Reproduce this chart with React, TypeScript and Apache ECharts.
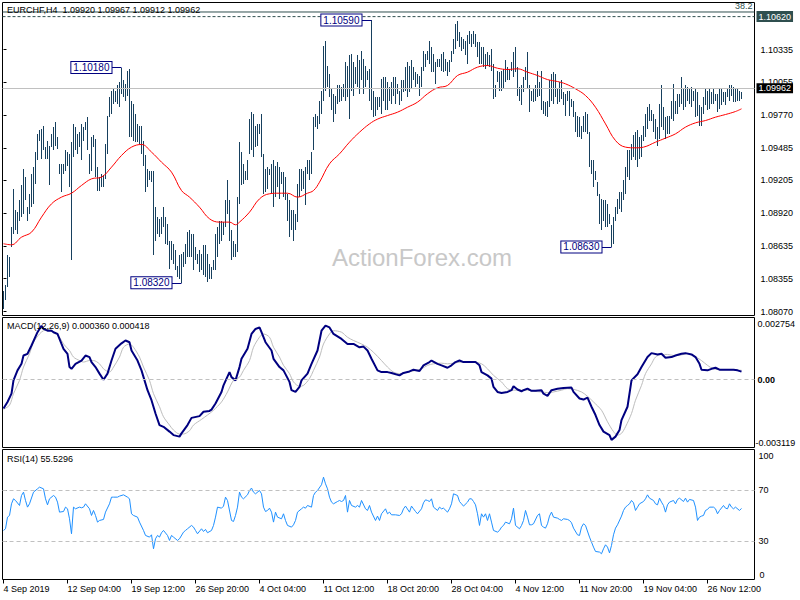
import React, { useEffect, useRef } from 'react';
import * as echarts from 'echarts';

const symbolTitle = 'EURCHF,H4  1.09920 1.09967 1.09912 1.09962';
const macdTitle = 'MACD(12,26,9) 0.000360 0.000418';
const rsiTitle = 'RSI(14) 55.5296';

const highs = [
1.08253,1.08297,1.08556,1.08541,1.08801,1.09132,1.08945,1.08930,1.09031,1.09161,
1.09305,1.09233,1.08973,1.09089,1.09261,1.09319,1.09449,1.09607,1.09636,1.09650,
1.09679,1.09492,1.09549,1.09506,1.09607,1.09665,1.09708,1.09578,1.09348,1.09348,
1.09348,1.09463,1.09449,1.09434,1.09535,1.09693,1.09665,1.09607,1.09621,1.09693,
1.09665,1.09708,1.09751,1.09434,1.09578,1.09593,1.09564,1.09319,1.09233,1.09261,
1.09247,1.09521,1.09765,1.09924,1.09981,1.09996,1.09981,1.10025,1.10053,1.10180,
1.10068,1.10039,1.10154,1.10170,1.09895,1.09866,1.09780,1.09693,1.09679,1.09679,
1.09549,1.09420,1.09305,1.09290,1.09290,1.09290,1.08973,1.08887,1.08873,1.08887,
1.08973,1.08887,1.08830,1.08685,1.08685,1.08657,1.08599,1.08469,1.08556,1.08570,
1.08585,1.08657,1.08757,1.08772,1.08743,1.08743,1.08628,1.08570,1.08599,1.08570,
1.08642,1.08642,1.08570,1.08484,1.08455,1.08513,1.08743,1.08801,1.08858,1.08858,
1.08844,1.09031,1.09204,1.09031,1.08772,1.08685,1.08657,1.09060,1.09535,1.09449,
1.09348,1.09290,1.09377,1.09737,1.09794,1.09780,1.09679,1.09693,1.09693,1.09780,
1.09434,1.09305,1.09319,1.09305,1.09348,1.09377,1.09333,1.09362,1.09319,1.09276,
1.09276,1.09233,1.09089,1.09031,1.08945,1.08945,1.08916,1.09175,1.09305,1.09305,
1.09290,1.09319,1.09377,1.09377,1.09449,1.09751,1.09780,1.09765,1.09895,1.09981,
1.10370,1.10413,1.10197,1.10125,1.09996,1.09953,1.09938,1.10025,1.10025,1.10010,
1.10039,1.10226,1.10197,1.10284,1.10298,1.10226,1.10183,1.10284,1.10241,1.10327,
1.10255,1.10197,1.10154,1.10169,1.10590,1.09981,1.09924,1.09924,1.09924,1.10082,
1.10097,1.10097,1.10053,1.10010,1.10053,1.10097,1.10097,1.10039,1.09981,1.10068,
1.10068,1.10183,1.10226,1.10197,1.10241,1.10183,1.10140,1.10125,1.10111,1.10183,
1.10327,1.10298,1.10327,1.10413,1.10356,1.10298,1.10226,1.10255,1.10255,1.10298,
1.10313,1.10255,1.10226,1.10241,1.10327,1.10428,1.10560,1.10585,1.10485,1.10442,
1.10428,1.10413,1.10457,1.10500,1.10471,1.10500,1.10471,1.10399,1.10399,1.10356,
1.10356,1.10298,1.10313,1.10284,1.10341,1.10212,1.10025,1.10154,1.10140,1.10154,
1.10169,1.10241,1.10183,1.10169,1.10226,1.10313,1.10356,1.10183,1.10010,1.10025,
1.10097,1.10183,1.10313,1.10025,1.09981,1.09996,1.10025,1.10154,1.10053,1.10154,
1.09895,1.09881,1.09895,1.10068,1.10125,1.10140,1.10125,1.09996,1.10053,1.10068,
1.09967,1.09953,1.09981,1.09981,1.09909,1.09895,1.09794,1.09765,1.09751,1.09679,
1.09765,1.09794,1.09780,1.09621,1.09377,1.09377,1.09290,1.09189,1.09089,1.09045,
1.09031,1.09031,1.09002,1.08916,1.08815,1.08887,1.08973,1.09045,1.09103,1.09103,
1.09204,1.09319,1.09463,1.09463,1.09521,1.09593,1.09621,1.09636,1.09578,1.09593,
1.09679,1.09780,1.09837,1.09866,1.09809,1.09780,1.09737,1.09665,1.09866,1.10025,
1.09837,1.09751,1.09765,1.09765,1.09895,1.10039,1.09895,1.09953,1.09953,1.10097,
1.09996,1.10025,1.10010,1.09996,1.10010,1.09981,1.09996,1.09967,1.09852,1.09837,
1.09924,1.09996,1.09981,1.09996,1.09967,1.09996,1.09953,1.09953,1.09996,1.09996,
1.09967,1.09967,1.09996,1.10025,1.10025,1.10010,1.09996,1.09996,1.09981,1.09967
];

const lows = [
1.08095,1.08167,1.08282,1.08369,1.08628,1.08743,1.08772,1.08743,1.08858,1.08887,
1.08916,1.09031,1.08858,1.08916,1.08973,1.09002,1.09175,1.09377,1.09549,1.09391,
1.09463,1.09391,1.09391,1.09161,1.09492,1.09463,1.09506,1.09477,1.09261,1.09103,
1.09261,1.09290,1.09333,1.09146,1.08513,1.09405,1.09463,1.09434,1.09492,1.09377,
1.09549,1.09636,1.09463,1.09261,1.09290,1.09492,1.09233,1.09117,1.09117,1.09146,
1.09146,1.09218,1.09434,1.09751,1.09780,1.09866,1.09881,1.09866,1.09837,1.09953,
1.09924,1.09895,1.09938,1.09578,1.09578,1.09549,1.09535,1.09535,1.09521,1.09434,
1.09333,1.09103,1.09146,1.09204,1.09189,1.08556,1.08685,1.08743,1.08714,1.08743,
1.08801,1.08657,1.08642,1.08441,1.08513,1.08484,1.08426,1.08369,1.08354,1.08320,
1.08455,1.08484,1.08541,1.08541,1.08541,1.08426,1.08513,1.08484,1.08412,1.08426,
1.08383,1.08369,1.08325,1.08354,1.08354,1.08426,1.08426,1.08541,1.08657,1.08685,
1.08729,1.08801,1.08916,1.08685,1.08513,1.08541,1.08541,1.08585,1.09002,1.09161,
1.09175,1.09204,1.09204,1.09434,1.09463,1.09405,1.09492,1.09506,1.09607,1.09405,
1.09089,1.09103,1.09132,1.09247,1.09089,1.08973,1.09060,1.09146,1.09045,1.09175,
1.09060,1.09031,1.08858,1.08714,1.08772,1.08685,1.08772,1.08844,1.09060,1.09117,
1.09132,1.08988,1.09261,1.09204,1.09261,1.09463,1.09665,1.09650,1.09693,1.09780,
1.09895,1.09981,1.10010,1.09924,1.09809,1.09708,1.09780,1.09866,1.09881,1.09895,
1.09924,1.09895,1.09924,1.09737,1.09981,1.09938,1.10039,1.10010,1.09953,1.10068,
1.09953,1.10010,1.10068,1.09895,1.09809,1.09751,1.09765,1.09809,1.09837,1.09780,
1.09895,1.09809,1.09809,1.09895,1.09866,1.09938,1.09866,1.09953,1.09852,1.09895,
1.09967,1.09981,1.09924,1.09967,1.09996,1.10068,1.10010,1.10039,1.09938,1.10010,
1.10154,1.10183,1.10241,1.10212,1.10140,1.10140,1.10039,1.10183,1.10183,1.10154,
1.10140,1.10154,1.10111,1.10140,1.10226,1.10298,1.10341,1.10413,1.10356,1.10327,
1.10341,1.10284,1.10212,1.10385,1.10356,1.10385,1.10356,1.10269,1.10212,1.10212,
1.10183,1.10169,1.10197,1.10183,1.10154,1.09909,1.09924,1.10053,1.09981,1.09981,
1.09996,1.10053,1.10068,1.10068,1.10154,1.10097,1.10140,1.09938,1.09895,1.09852,
1.09967,1.10068,1.09996,1.09794,1.09895,1.09881,1.09895,1.09924,1.09938,1.09809,
1.09780,1.09765,1.09751,1.09837,1.09895,1.09866,1.09924,1.09866,1.09881,1.09909,
1.09852,1.09765,1.09895,1.09765,1.09837,1.09751,1.09621,1.09578,1.09578,1.09564,
1.09621,1.09621,1.09607,1.09319,1.09261,1.09146,1.09204,1.09074,1.08830,1.08772,
1.08858,1.08801,1.08801,1.08830,1.08630,1.08657,1.08858,1.08916,1.08959,1.08930,
1.09031,1.09089,1.09233,1.09204,1.09377,1.09405,1.09377,1.09319,1.09391,1.09405,
1.09549,1.09578,1.09650,1.09722,1.09722,1.09621,1.09564,1.09506,1.09564,1.09665,
1.09636,1.09564,1.09607,1.09607,1.09737,1.09722,1.09780,1.09780,1.09837,1.09866,
1.09809,1.09837,1.09895,1.09866,1.09837,1.09895,1.09751,1.09765,1.09679,1.09679,
1.09780,1.09852,1.09809,1.09823,1.09866,1.09866,1.09895,1.09794,1.09823,1.09852,
1.09881,1.09852,1.09924,1.09895,1.09938,1.09881,1.09881,1.09895,1.09895,1.09912
];

// moving average (red) sampled at bar indices
const maIndex = [0,4,9,14,19,24,29,34,39,44,49,54,59,64,69,74,79,84,89,93,98,103,108,113,116,118,123,128,133,138,142,147,152,155,158,163,168,173,178,183,187,192,197,202,207,212,217,222,227,232,237,242,247,252,257,262,267,272,277,281,286,291,296,301,306,311,316,320,326,331,336,341,346,351,356,361,366,369];
const maValue = [1.08657,1.08648,1.08714,1.08757,1.08887,1.09002,1.09060,1.09094,1.09161,1.09218,1.09233,1.09319,1.09420,1.09492,1.09515,1.09449,1.09362,1.09276,1.09117,1.09060,1.08973,1.08873,1.08844,1.08844,1.08821,1.08844,1.08930,1.09045,1.09089,1.09094,1.09094,1.09060,1.09094,1.09117,1.09189,1.09348,1.09434,1.09535,1.09621,1.09693,1.09734,1.09765,1.09794,1.09837,1.09881,1.09953,1.10005,1.10025,1.10111,1.10140,1.10183,1.10197,1.10174,1.10163,1.10169,1.10140,1.10111,1.10076,1.10059,1.10039,1.09996,1.09938,1.09837,1.09693,1.09549,1.09492,1.09486,1.09492,1.09535,1.09570,1.09607,1.09665,1.09702,1.09722,1.09751,1.09774,1.09800,1.09823];

const macdLine = [[0,-0.00133],[2,-0.00103],[4,-0.00065],[5,-0.00004],[7,0.00042],[9,0.00072],[10,0.00110],[12,0.00118],[14,0.00156],[17,0.00217],[19,0.00247],[20,0.00232],[22,0.00224],[24,0.00224],[25,0.00217],[27,0.00209],[29,0.00163],[30,0.00141],[32,0.00118],[33,0.00057],[34,0.00049],[36,0.00072],[39,0.00087],[41,0.00110],[43,0.00103],[44,0.00080],[46,0.00057],[48,0.00027],[50,-0.00001],[52,0.00027],[54,0.00087],[56,0.00141],[59,0.00166],[61,0.00179],[63,0.00171],[64,0.00133],[67,0.00087],[69,0.00042],[72,-0.00049],[74,-0.00095],[76,-0.00156],[78,-0.00209],[80,-0.00217],[83,-0.00239],[85,-0.00255],[88,-0.00262],[89,-0.00247],[92,-0.00209],[94,-0.00176],[98,-0.00168],[100,-0.00148],[103,-0.00144],[104,-0.00138],[106,-0.00110],[109,-0.00057],[110,-0.00027],[113,0.00034],[114,0.00011],[116,-0.00004],[118,0.00057],[119,0.00095],[122,0.00141],[124,0.00209],[126,0.00232],[128,0.00239],[129,0.00217],[131,0.00171],[134,0.00133],[135,0.00095],[138,0.00057],[140,0.00042],[143,-0.00011],[144,-0.00049],[146,-0.00057],[148,-0.00034],[149,-0.00004],[152,0.00027],[154,0.00072],[157,0.00133],[159,0.00224],[161,0.00247],[163,0.00239],[165,0.00209],[169,0.00186],[172,0.00163],[175,0.00163],[178,0.00148],[180,0.00151],[182,0.00133],[184,0.00095],[187,0.00042],[189,0.00034],[192,0.00034],[194,0.00030],[198,0.00019],[200,0.00030],[203,0.00037],[205,0.00045],[208,0.00039],[210,0.00065],[213,0.00080],[214,0.00087],[217,0.00072],[219,0.00065],[222,0.00054],[224,0.00065],[226,0.00080],[228,0.00087],[230,0.00080],[234,0.00080],[236,0.00080],[238,0.00065],[239,0.00034],[242,0.00019],[244,0.00004],[245,-0.00034],[247,-0.00057],[249,-0.00062],[252,-0.00057],[254,-0.00049],[255,-0.00031],[257,-0.00046],[259,-0.00054],[260,-0.00049],[262,-0.00042],[264,-0.00052],[266,-0.00052],[269,-0.00049],[270,-0.00065],[272,-0.00075],[274,-0.00049],[277,-0.00042],[280,-0.00039],[284,-0.00037],[285,-0.00057],[288,-0.00087],[290,-0.00092],[292,-0.00083],[294,-0.00125],[296,-0.00163],[298,-0.00209],[300,-0.00239],[303,-0.00255],[304,-0.00277],[306,-0.00262],[308,-0.00232],[309,-0.00186],[312,-0.00125],[314,-0.00004],[317,0.00024],[319,0.00057],[322,0.00103],[324,0.00121],[327,0.00115],[329,0.00118],[331,0.00100],[334,0.00103],[336,0.00110],[339,0.00118],[341,0.00121],[344,0.00115],[346,0.00103],[348,0.00072],[349,0.00045],[352,0.00042],[354,0.00049],[356,0.00054],[358,0.00045],[360,0.00045],[363,0.00045],[365,0.00045],[367,0.00042],[369,0.00036]];

const signalLine = [[0,-0.00136],[3,-0.00118],[5,-0.00065],[8,-0.00004],[10,0.00057],[13,0.00118],[15,0.00171],[18,0.00209],[20,0.00224],[23,0.00232],[25,0.00217],[28,0.00194],[30,0.00163],[33,0.00133],[35,0.00103],[38,0.00087],[40,0.00080],[43,0.00087],[45,0.00087],[48,0.00072],[50,0.00049],[53,0.00034],[55,0.00057],[58,0.00103],[60,0.00148],[63,0.00163],[65,0.00148],[68,0.00103],[70,0.00057],[73,-0.00004],[75,-0.00065],[78,-0.00125],[80,-0.00171],[83,-0.00209],[85,-0.00232],[88,-0.00250],[90,-0.00250],[93,-0.00235],[95,-0.00209],[99,-0.00183],[102,-0.00163],[105,-0.00141],[109,-0.00103],[112,-0.00057],[115,-0.00004],[118,0.00011],[120,0.00042],[123,0.00087],[125,0.00148],[128,0.00194],[130,0.00209],[133,0.00194],[135,0.00148],[138,0.00103],[140,0.00065],[143,0.00027],[145,-0.00011],[148,-0.00031],[150,-0.00027],[153,0.00004],[155,0.00042],[158,0.00103],[160,0.00163],[163,0.00209],[165,0.00224],[169,0.00217],[172,0.00194],[175,0.00179],[179,0.00163],[182,0.00148],[185,0.00125],[189,0.00087],[192,0.00057],[195,0.00034],[198,0.00027],[202,0.00034],[205,0.00039],[209,0.00049],[212,0.00065],[215,0.00072],[219,0.00075],[222,0.00072],[225,0.00075],[229,0.00080],[232,0.00080],[235,0.00080],[239,0.00072],[242,0.00049],[245,0.00019],[249,-0.00011],[252,-0.00042],[255,-0.00049],[259,-0.00049],[262,-0.00049],[265,-0.00054],[269,-0.00057],[272,-0.00060],[275,-0.00057],[279,-0.00049],[282,-0.00042],[285,-0.00045],[289,-0.00057],[292,-0.00077],[295,-0.00103],[299,-0.00141],[302,-0.00194],[305,-0.00239],[307,-0.00255],[309,-0.00247],[311,-0.00217],[314,-0.00156],[316,-0.00095],[319,-0.00027],[321,0.00027],[324,0.00072],[326,0.00103],[329,0.00115],[332,0.00115],[335,0.00110],[339,0.00113],[342,0.00118],[345,0.00110],[349,0.00087],[352,0.00065],[355,0.00049],[359,0.00045],[362,0.00045],[365,0.00045],[369,0.00042]];

const rsiLine = [[0,38.3],[1,39.6],[2,48.7],[3,50.0],[4,59.1],[5,63.0],[6,61.7],[8,57.8],[9,65.6],[10,68.2],[11,61.7],[12,56.5],[13,59.1],[15,68.2],[17,70.8],[18,72.1],[20,70.8],[21,63.0],[22,58.3],[23,63.0],[25,65.6],[26,64.3],[27,60.4],[28,52.6],[30,53.1],[31,56.5],[32,55.2],[33,47.4],[34,35.7],[35,56.5],[36,55.2],[38,56.5],[39,56.0],[40,56.5],[41,59.1],[43,55.2],[44,50.0],[45,53.9],[46,50.0],[47,44.8],[48,46.1],[50,46.9],[51,52.6],[53,59.1],[54,64.3],[55,64.3],[57,64.3],[58,65.1],[60,66.1],[62,64.3],[63,63.0],[64,51.3],[65,50.0],[67,48.7],[68,44.8],[70,38.3],[71,34.4],[73,33.1],[74,34.9],[75,24.0],[76,31.8],[77,34.4],[78,33.1],[79,36.5],[80,38.3],[82,34.4],[83,30.5],[84,34.4],[85,33.1],[87,30.5],[88,31.8],[90,37.0],[91,38.3],[92,39.6],[94,42.2],[95,40.9],[96,38.3],[97,35.7],[99,39.6],[100,37.5],[101,39.1],[102,36.5],[104,38.3],[105,42.2],[106,48.7],[107,56.5],[109,55.7],[110,57.3],[111,64.3],[112,61.7],[114,46.1],[115,45.3],[116,50.0],[117,56.5],[118,68.2],[119,64.3],[120,63.0],[122,66.1],[123,69.5],[124,71.4],[125,68.2],[126,66.9],[128,69.5],[129,66.9],[130,56.5],[131,53.1],[132,53.9],[133,55.7],[134,52.6],[135,44.8],[136,52.6],[137,48.7],[139,47.4],[140,51.3],[141,46.1],[142,42.2],[144,40.9],[145,42.7],[146,46.1],[147,52.6],[149,55.2],[150,56.5],[151,55.7],[152,57.8],[154,56.5],[155,65.6],[156,68.2],[157,69.5],[159,74.0],[160,79.9],[161,74.7],[162,70.8],[163,64.3],[164,60.4],[165,59.1],[167,60.9],[168,61.7],[169,60.9],[170,61.7],[171,65.6],[172,52.6],[173,61.7],[174,57.8],[176,56.5],[177,57.8],[178,56.5],[179,61.7],[181,55.2],[182,53.9],[183,57.8],[184,52.6],[186,46.1],[187,49.5],[188,46.1],[189,51.3],[191,55.2],[192,51.3],[193,52.6],[194,50.5],[196,50.5],[198,50.0],[199,51.3],[200,55.2],[201,57.3],[203,52.6],[204,57.3],[205,55.2],[206,53.1],[207,51.3],[209,55.2],[210,59.9],[211,62.2],[212,61.7],[213,60.9],[214,63.0],[215,56.5],[217,53.9],[218,56.5],[219,55.2],[220,55.7],[222,52.6],[223,55.2],[224,59.1],[225,66.9],[227,65.6],[228,60.9],[229,59.1],[230,57.3],[232,60.4],[233,63.0],[234,63.0],[235,60.9],[236,58.3],[237,51.3],[238,42.2],[239,51.3],[240,48.7],[241,51.3],[242,46.1],[243,51.3],[244,44.8],[245,38.3],[247,37.0],[248,38.3],[249,40.9],[250,42.2],[251,44.8],[253,43.5],[254,47.4],[255,55.7],[256,42.2],[258,39.6],[259,42.2],[260,46.1],[261,53.9],[262,48.7],[263,42.7],[264,42.7],[265,43.5],[267,50.0],[268,51.3],[269,42.2],[270,40.9],[271,40.1],[272,43.5],[273,49.5],[274,52.6],[275,48.7],[277,47.9],[278,46.9],[279,46.1],[280,47.4],[282,46.9],[283,46.1],[284,44.3],[285,40.1],[287,34.9],[288,34.4],[289,40.9],[290,43.5],[291,42.2],[293,33.1],[294,29.2],[295,25.3],[296,21.9],[298,21.4],[299,20.1],[300,24.0],[301,27.1],[302,25.3],[303,20.8],[304,26.6],[305,34.9],[306,40.1],[307,42.7],[309,49.5],[310,53.9],[311,56.5],[312,57.8],[313,59.1],[314,61.7],[315,59.9],[316,53.9],[317,56.5],[318,59.1],[320,60.9],[321,63.0],[322,66.1],[323,63.5],[325,61.7],[326,59.1],[327,58.3],[328,63.5],[329,60.4],[330,57.8],[331,52.6],[332,58.3],[333,60.4],[335,61.7],[336,59.1],[337,62.5],[338,63.5],[340,60.9],[341,63.5],[342,60.4],[343,62.5],[345,61.7],[346,56.5],[347,46.1],[348,48.7],[349,49.5],[350,50.0],[351,53.9],[352,54.7],[353,56.5],[355,56.5],[356,55.2],[357,51.3],[358,53.9],[360,57.8],[361,55.7],[362,55.2],[363,59.1],[364,56.5],[365,55.2],[366,56.5],[368,53.9],[369,55.5]];

const priceTicks = [1.10335, 1.10055, 1.09770, 1.09485, 1.09205, 1.08920, 1.08635, 1.08355, 1.08070];
const dateTickIndex = [0, 32, 64, 96, 128, 160, 192, 224, 256, 288, 320, 352];
const dateTickLabels = ['4 Sep 2019', '12 Sep 04:00', '19 Sep 12:00', '26 Sep 20:00', '4 Oct 04:00', '11 Oct 12:00', '18 Oct 20:00', '28 Oct 04:00', '4 Nov 12:00', '11 Nov 20:00', '19 Nov 04:00', '26 Nov 12:00'];

const extremeIndex = [59, 89, 184, 304];
const extremeValue = [1.10180, 1.08320, 1.10590, 1.08630];

const fibLevel = 1.10660;
const fibLabel = '38.2';
const hLevel = 1.10620;
const lastPrice = 1.09962;
const macdTop = 0.002754;
const macdBottom = -0.003119;
const rsiLevels = [70, 30];

const FONT = "'Liberation Sans', Arial, sans-serif";
const BAR = '#17405E';
const NAVY = '#000080';
const SLATE = '#2F4F4F';
const BARS_VISIBLE = 376;

export default function App() {
  const ref = useRef<HTMLDivElement>(null);
  useEffect(() => {
    if (!ref.current) return;
    const chart = echarts.init(ref.current, undefined, { renderer: 'svg' });
    const xMin = -0.5;
    const xMax = BARS_VISIBLE - 0.5;
    const barData = highs.map((h, i) => [i, lows[i], h]);
    const maData = maIndex.map((x, k) => [x, maValue[k]]);
    const lbl = { fontFamily: FONT, fontSize: 9, color: '#000' };
    const xBase = { type: 'value', min: xMin, max: xMax };
    const CONN = 5;

    const extremeLines = extremeIndex.map((i, k) => [
      { coord: [i - CONN, extremeValue[k]], lineStyle: { color: NAVY, type: 'solid', width: 1 }, label: { show: false } },
      { coord: [i, extremeValue[k]] },
    ]);

    const option: any = {
      animation: false,
      backgroundColor: '#ffffff',
      title: [
        { text: symbolTitle, left: 7, top: 5, padding: 0, textStyle: { ...lbl, fontWeight: 'normal' } },
        { text: macdTitle, left: 7, top: 321, padding: 0, textStyle: { ...lbl, fontWeight: 'normal' } },
        { text: rsiTitle, left: 7, top: 454, padding: 0, textStyle: { ...lbl, fontWeight: 'normal' } },
      ],
      graphic: [
        { type: 'text', left: 332, top: 245, z: 0, style: { text: 'ActionForex.com', fontSize: 24, fontFamily: FONT, fill: '#C8C8C8' } },
      ],
      grid: [
        { left: 2.5, top: 2.5, width: 752, height: 313, show: true, borderColor: '#000', borderWidth: 1 },
        { left: 2.5, top: 317.5, width: 752, height: 130, show: true, borderColor: '#000', borderWidth: 1 },
        { left: 2.5, top: 449.5, width: 752, height: 130, show: true, borderColor: '#000', borderWidth: 1 },
      ],
      xAxis: [
        { ...xBase, gridIndex: 0, show: false },
        { ...xBase, gridIndex: 1, show: false },
        {
          ...xBase, gridIndex: 2,
          axisLine: { show: false }, splitLine: { show: false },
          axisTick: { show: true, customValues: dateTickIndex, length: 4, lineStyle: { color: '#000' } },
          axisLabel: {
            ...lbl, customValues: dateTickIndex, align: 'left', margin: 5,
            formatter: (v: number) => { const k = dateTickIndex.indexOf(Math.round(v)); return k >= 0 ? dateTickLabels[k] : ''; },
          },
        },
      ],
      yAxis: [
        {
          type: 'value', gridIndex: 0, position: 'right', min: 1.08037, max: 1.10742,
          splitLine: { show: false }, axisLine: { show: false },
          axisTick: { show: true, customValues: priceTicks, length: 3, lineStyle: { color: '#000' } },
          axisLabel: { ...lbl, lineHeight: 9, customValues: priceTicks, margin: 6, formatter: (v: number) => v.toFixed(5) },
        },
        {
          type: 'value', gridIndex: 1, position: 'right', min: macdBottom, max: 0.002845,
          splitLine: { show: false }, axisLine: { show: false },
          axisTick: { show: true, customValues: [0], length: 3, lineStyle: { color: '#000' } },
          axisLabel: { ...lbl, fontWeight: 'bold', customValues: [0], margin: 3, formatter: () => '0.00' },
        },
        {
          type: 'value', gridIndex: 1, position: 'right', min: macdBottom, max: 0.002845,
          splitLine: { show: false }, axisLine: { show: false }, axisTick: { show: false },
          axisLabel: { ...lbl, customValues: [macdTop], margin: 3, verticalAlign: 'top', formatter: (v: number) => v.toFixed(6) },
        },
        {
          type: 'value', gridIndex: 1, position: 'right', min: macdBottom, max: 0.002845,
          splitLine: { show: false }, axisLine: { show: false }, axisTick: { show: false },
          axisLabel: { ...lbl, customValues: [macdBottom], margin: 1, verticalAlign: 'bottom', formatter: (v: number) => v.toFixed(6) },
        },
        {
          type: 'value', gridIndex: 2, position: 'right', min: 0, max: 101.5,
          splitLine: { show: false }, axisLine: { show: false },
          axisTick: { show: true, customValues: rsiLevels, length: 3, lineStyle: { color: '#000' } },
          axisLabel: { ...lbl, customValues: rsiLevels, margin: 4, formatter: (v: number) => String(Math.round(v)) },
        },
        {
          type: 'value', gridIndex: 2, position: 'right', min: 0, max: 101.5,
          splitLine: { show: false }, axisLine: { show: false }, axisTick: { show: false },
          axisLabel: { ...lbl, customValues: [100], margin: 4, verticalAlign: 'top', formatter: () => '100' },
        },
        {
          type: 'value', gridIndex: 2, position: 'right', min: 0, max: 101.5,
          splitLine: { show: false }, axisLine: { show: false }, axisTick: { show: false },
          axisLabel: { ...lbl, customValues: [0], margin: 5, verticalAlign: 'bottom', formatter: () => '0' },
        },
      ],
      series: [
        // Fibonacci 38.2 level line
        {
          type: 'line', xAxisIndex: 0, yAxisIndex: 0, z: 2, silent: true,
          data: [[xMin, fibLevel], [xMax, fibLevel]], symbol: 'none',
          lineStyle: { color: SLATE, width: 1, type: 'solid' },
          markPoint: {
            silent: true, symbol: 'rect', symbolSize: 0,
            data: [{ coord: [xMax, fibLevel], label: { show: true, position: 'left', distance: 2, offset: [0, -6], formatter: fibLabel, fontFamily: FONT, fontSize: 9, color: SLATE } }],
          },
        },
        // horizontal dashed level with price tag
        {
          type: 'line', xAxisIndex: 0, yAxisIndex: 0, z: 2, silent: true,
          data: [[xMin, hLevel], [xMax, hLevel]], symbol: 'none',
          lineStyle: { color: SLATE, width: 1, type: [3, 2] },
          endLabel: { show: true, distance: 2, formatter: hLevel.toFixed(5), fontFamily: FONT, fontSize: 9, lineHeight: 9, color: '#fff', backgroundColor: SLATE, padding: [1, 2, 1, 2] },
        },
        {
          type: 'custom', xAxisIndex: 0, yAxisIndex: 0, z: 3,
          data: barData,
          renderItem: (params: any, api: any) => {
            const i = api.value(0);
            const lo = api.coord([i, api.value(1)]);
            const hi = api.coord([i, api.value(2)]);
            const x = Math.floor(lo[0]) + 0.5;
            return { type: 'line', shape: { x1: x, y1: Math.round(lo[1]), x2: x, y2: Math.round(hi[1]) }, style: { stroke: BAR, lineWidth: 1 } };
          },
        },
        {
          type: 'line', xAxisIndex: 0, yAxisIndex: 0, z: 4,
          data: maData, showSymbol: false, symbol: 'none', smooth: 0.4,
          lineStyle: { color: '#FF0000', width: 1 },
          markLine: {
            silent: true, symbol: ['none', 'none'], animation: false,
            data: [
              { yAxis: lastPrice, lineStyle: { color: '#C0C0C0', type: 'solid', width: 1 }, label: { show: true, position: 'end', distance: 2, formatter: lastPrice.toFixed(5), fontFamily: FONT, fontSize: 9, lineHeight: 9, color: '#fff', backgroundColor: '#000', padding: [1, 2, 0, 2] } },
              ...extremeLines,
            ],
          },
          markPoint: {
            silent: true, symbol: 'rect', symbolSize: 0,
            data: extremeIndex.map((i, k) => ({
              coord: [i - CONN, extremeValue[k]],
              label: {
                show: true, position: 'left', distance: 0, formatter: extremeValue[k].toFixed(5),
                fontFamily: FONT, fontSize: 10, color: NAVY, backgroundColor: '#fff',
                borderColor: NAVY, borderWidth: 1, padding: [1, 2, 0, 2],
              },
            })),
          },
        },
        {
          type: 'line', xAxisIndex: 1, yAxisIndex: 1, z: 3,
          data: signalLine, showSymbol: false, symbol: 'none', smooth: 0.3,
          lineStyle: { color: '#BDBDBD', width: 1 },
          markLine: {
            silent: true, symbol: ['none', 'none'], label: { show: false },
            data: [{ yAxis: 0 }],
            lineStyle: { color: '#C0C0C0', type: [4, 3], width: 1 },
          },
        },
        {
          type: 'line', xAxisIndex: 1, yAxisIndex: 1, z: 4,
          data: macdLine, showSymbol: false, symbol: 'none',
          lineStyle: { color: NAVY, width: 2 },
        },
        {
          type: 'line', xAxisIndex: 2, yAxisIndex: 4, z: 4,
          data: rsiLine, showSymbol: false, symbol: 'none',
          lineStyle: { color: '#1E90FF', width: 1 },
          markLine: {
            silent: true, symbol: ['none', 'none'], label: { show: false },
            data: rsiLevels.map((v) => ({ yAxis: v })),
            lineStyle: { color: '#C0C0C0', type: [4, 3], width: 1 },
          },
        },
      ],
    };
    chart.setOption(option);
    return () => chart.dispose();
  }, []);
  return <div ref={ref} style={{ position: 'absolute', left: 0, top: 0, width: 800, height: 600, background: '#fff' }} />;
}
